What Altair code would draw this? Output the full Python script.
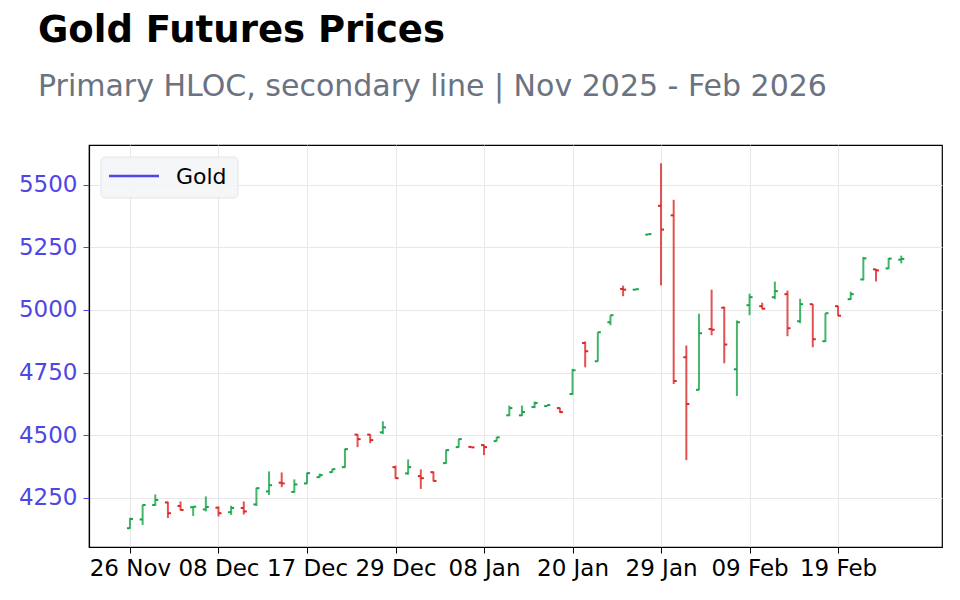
import altair as alt
import pandas as pd

# ---- data ----
dates = ["2025-11-26", "2025-11-28", "2025-12-01", "2025-12-02", "2025-12-03", "2025-12-04",
         "2025-12-05", "2025-12-08", "2025-12-09", "2025-12-10", "2025-12-11", "2025-12-12",
         "2025-12-15", "2025-12-16", "2025-12-17", "2025-12-18", "2025-12-19", "2025-12-22",
         "2025-12-23", "2025-12-24", "2025-12-26", "2025-12-29", "2025-12-30", "2025-12-31",
         "2026-01-02", "2026-01-05", "2026-01-06", "2026-01-07", "2026-01-08", "2026-01-09",
         "2026-01-12", "2026-01-13", "2026-01-14", "2026-01-15", "2026-01-16", "2026-01-20",
         "2026-01-21", "2026-01-22", "2026-01-23", "2026-01-26", "2026-01-27", "2026-01-28",
         "2026-01-29", "2026-01-30", "2026-02-02", "2026-02-03", "2026-02-04", "2026-02-05",
         "2026-02-06", "2026-02-09", "2026-02-10", "2026-02-11", "2026-02-12", "2026-02-13",
         "2026-02-17", "2026-02-18", "2026-02-19", "2026-02-20", "2026-02-23", "2026-02-24",
         "2026-02-25", "2026-02-26"]
opens = [4128, 4163, 4221, 4231, 4217, 4212, 4203, 4210, 4192, 4209, 4223, 4275,
         4310, 4273, 4307, 4332, 4352, 4372, 4502, 4502, 4511, 4372, 4347, 4336,
         4352, 4388, 4452, 4453, 4460, 4476, 4579, 4579, 4612, 4616, 4608, 4664,
         4868, 4795, 4951, 5084, 5081, 5301, 5416, 5378, 4811, 4681, 4924, 5009,
         4763, 5019, 5015, 5051, 5063, 4955, 5023, 4875, 5015, 5043, 5122, 5162,
         5166, 5201]
highs = [4170, 4222, 4263, 4234, 4235, 4214, 4255, 4215, 4218, 4235, 4290, 4355,
         4351, 4323, 4350, 4346, 4365, 4446, 4504, 4504, 4555, 4378, 4403, 4363,
         4354, 4442, 4485, 4454, 4462, 4493, 4618, 4618, 4634, 4620, 4610, 4765,
         4874, 4911, 4979, 5097, 5083, 5303, 5586, 5440, 4858, 4985, 5081, 5013,
         4958, 5065, 5029, 5113, 5077, 5045, 5024, 4987, 5016, 5073, 5212, 5164,
         5208, 5217]
lows = [4126, 4141, 4217, 4169, 4198, 4177, 4195, 4175, 4181, 4183, 4217, 4261,
        4292, 4270, 4306, 4330, 4350, 4370, 4452, 4468, 4504, 4326, 4342, 4285,
        4315, 4386, 4450, 4450, 4420, 4475, 4576, 4576, 4608, 4615, 4589, 4661,
        4771, 4794, 4939, 5055, 5080, 5300, 5098, 4704, 4400, 4680, 4899, 4787,
        4656, 4979, 5003, 5043, 4895, 4947, 4851, 4872, 4976, 5040, 5118, 5114,
        5164, 5186]
closes = [4165, 4221, 4241, 4188, 4201, 4214, 4213, 4188, 4209, 4195, 4288, 4300,
          4307, 4303, 4348, 4340, 4364, 4444, 4484, 4480, 4531, 4328, 4372, 4328,
          4317, 4440, 4484, 4451, 4452, 4491, 4608, 4592, 4628, 4620, 4592, 4759,
          4835, 4911, 4979, 5081, 5083, 5303, 5321, 4716, 4624, 4907, 4921, 4862,
          4951, 5051, 5005, 5075, 4927, 5023, 4883, 4987, 4977, 5063, 5206, 5158,
          5205, 5204]

tick_idx = [0, 7, 14, 21, 28, 35, 42, 49, 56]
tick_labels = ["26 Nov", "08 Dec", "17 Dec", "29 Dec", "08 Jan", "20 Jan", "29 Jan", "09 Feb", "19 Feb"]
y_ticks = [4250, 4500, 4750, 5000, 5250, 5500]
series_name = ["Gold"]

GREEN = "#16a34a"
RED = "#dc2626"
INDIGO = "#4f46e5"

df = pd.DataFrame({
    "idx": list(range(len(dates))),
    "date": dates,
    "open": opens,
    "high": highs,
    "low": lows,
    "close": closes,
})
df["dir"] = ["up" if c >= o else "down" for o, c in zip(opens, closes)]

x_scale = alt.Scale(domain=[-3.24, 64.22], nice=False, zero=False)
y_scale = alt.Scale(domain=[4053, 5659], nice=False, zero=False)

label_expr = "[" + ",".join("'" + t + "'" for t in tick_labels) + "][round(datum.value / 7)]"

x_axis = alt.Axis(values=tick_idx, labelExpr=label_expr, title=None, grid=True,
                  tickSize=6, labelPadding=4, labelFontSize=23, labelColor="black",
                  tickColor="black", domainColor="black", labelFlush=False,
                  labelOverlap=False)
y_axis = alt.Axis(values=y_ticks, format="d", title=None, grid=True, tickSize=6,
                  labelPadding=6, labelFontSize=23, labelColor=INDIGO, tickColor=INDIGO,
                  domainColor="black")

color = alt.Color("dir:N", scale=alt.Scale(domain=["up", "down"], range=[GREEN, RED]), legend=None)

base = alt.Chart(df)

vert = base.mark_rule(strokeWidth=2, opacity=0.8).encode(
    x=alt.X("idx:Q", scale=x_scale, axis=x_axis),
    y=alt.Y("low:Q", scale=y_scale, axis=y_axis),
    y2="high:Q",
    color=color,
)

open_tick = base.transform_calculate(xl="datum.idx - 0.24").mark_rule(strokeWidth=2).encode(
    x=alt.X("xl:Q", scale=x_scale, axis=x_axis),
    x2="idx:Q",
    y=alt.Y("open:Q", scale=y_scale, axis=y_axis),
    color=color,
)

close_tick = base.transform_calculate(xr="datum.idx + 0.24").mark_rule(strokeWidth=2).encode(
    x=alt.X("idx:Q", scale=x_scale, axis=x_axis),
    x2="xr:Q",
    y=alt.Y("close:Q", scale=y_scale, axis=y_axis),
    color=color,
)

leg_df = pd.DataFrame({"name": series_name})
leg_box = alt.Chart(leg_df).mark_rect(
    fill="#f3f4f6", fillOpacity=0.85, stroke="#e2e5ea", strokeWidth=1, cornerRadius=4
).encode(x=alt.value(12), x2=alt.value(149), y=alt.value(12), y2=alt.value(53))
leg_line = alt.Chart(leg_df).mark_rule(color=INDIGO, strokeWidth=2.6).encode(
    x=alt.value(20), x2=alt.value(70), y=alt.value(31))
leg_text = alt.Chart(leg_df).mark_text(
    align="left", baseline="alphabetic", fontSize=22, color="black", font="DejaVu Sans"
).encode(x=alt.value(87), y=alt.value(39), text="name:N")

chart = alt.layer(vert, open_tick, close_tick, leg_box, leg_line, leg_text).properties(
    width=853,
    height=402,
    autosize=alt.AutoSizeParams(type="none"),
    padding={"left": 89, "top": 145, "right": 18, "bottom": 53},
    title=alt.TitleParams(
        text="Gold Futures Prices",
        subtitle="Primary HLOC, secondary line | Nov 2025 - Feb 2026",
        anchor="start",
        frame="group",
        dx=-51,
        offset=42,
        font="DejaVu Sans",
        fontSize=37,
        fontWeight="bold",
        color="black",
        subtitleFont="DejaVu Sans",
        subtitleFontSize=30,
        subtitleColor="#6b7280",
        subtitlePadding=22,
    ),
).configure(
    font="DejaVu Sans",
    background="white",
).configure_view(
    stroke="black", strokeWidth=1.2
).configure_axis(
    gridColor="#e8e8e8", gridWidth=1, labelFont="DejaVu Sans", domainWidth=1.2
)

chart.save("out.html", embed_options={"renderer": "svg", "actions": False})
